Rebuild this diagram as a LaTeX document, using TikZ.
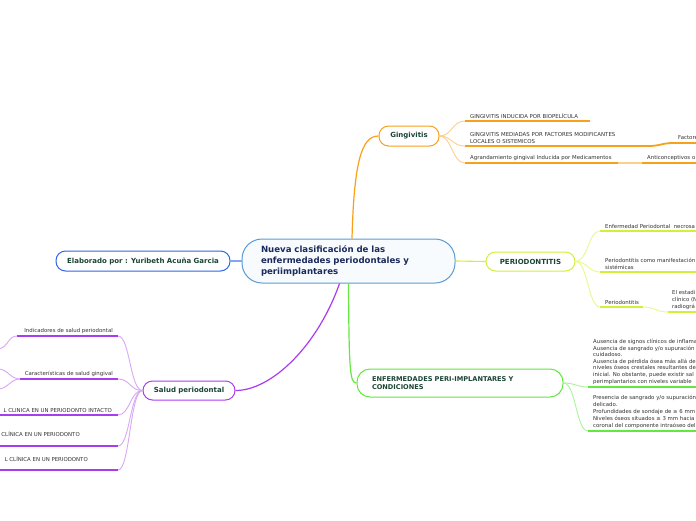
\documentclass[tikz,border=0pt]{standalone}
\usepackage{fontspec}
\setmainfont{DejaVu Sans}
\definecolor{cblue}{HTML}{5A9BD5}
\definecolor{cfill}{HTML}{F8FBFD}
\definecolor{orng}{HTML}{F7A11A}
\definecolor{orngl}{HTML}{FCD08C}
\definecolor{ylw}{HTML}{D2F03A}
\definecolor{ylwl}{HTML}{E8F98E}
\definecolor{grn}{HTML}{62E840}
\definecolor{grnl}{HTML}{ABF39C}
\definecolor{prp}{HTML}{A93CF0}
\definecolor{prpl}{HTML}{DAA8F6}
\definecolor{blu}{HTML}{2F66E8}
\definecolor{blul}{HTML}{86A6F0}
\definecolor{ntext}{HTML}{1A4533}
\definecolor{ctext}{HTML}{1B2A5C}
\definecolor{stext}{HTML}{333333}
\tikzset{
  topic/.style={draw, line width=1pt, rounded corners=9.5pt, fill=white, text=ntext,
    font=\bfseries\fontsize{7}{8.5}\selectfont, minimum height=20pt, inner sep=0pt},
  sub/.style={font=\fontsize{5.4}{6.9}\selectfont, text=stext, align=left, inner sep=0pt},
  uline/.style={line width=1.8pt},
  conn/.style={line width=0.9pt},
}
\begin{document}
\begin{tikzpicture}[x=1pt,y=-1pt]
\useasboundingbox[fill=white] (0,0) rectangle (696,520);

% ---------- central ----------
\node[draw=cblue, line width=1pt, fill=cfill, rounded corners=20pt, minimum width=213pt,
  minimum height=44pt, text width=175pt, inner xsep=19pt, inner ysep=0pt, align=left,
  text=ctext, font=\bfseries\fontsize{8.6}{11}\selectfont] (c) at (348.5,261)
  {Nueva clasificación de las\\enfermedades periodontales y\\periimplantares};

% ---------- Gingivitis ----------
\node[topic, draw=orng, minimum width=60pt] (ging) at (409,136) {Gingivitis};
\draw[orng, line width=1.2pt] ([xshift=3.5pt]c.north) .. controls (354,160) and (362,136) .. (ging.west);

\coordinate (g1a) at (465,121); \coordinate (g1b) at (590,121);
\coordinate (g2a) at (465,146); \coordinate (g2b) at (648,146);
\coordinate (g2c) at (674,143); \coordinate (g2d) at (697,143);
\coordinate (g3a) at (465,163); \coordinate (g3b) at (618,163);
\coordinate (g3c) at (642,163); \coordinate (g3d) at (697,163);
\foreach \t in {g1a,g2a,g3a}
  \draw[conn, orngl] (ging.east) .. controls (452,136) and (452,136|-\t) .. (\t);
\draw[uline, orng] (g1a) -- (g1b);
\draw[uline, orng] (g2a) -- (g2b) .. controls (661,146) and (661,143) .. (g2c) -- (g2d);
\draw[uline, orng] (g3a) -- (g3b);
\draw[uline, orngl] (g3b) -- (g3c);
\draw[uline, orng] (g3c) -- (g3d);
\node[sub, anchor=south west] (g1t) at (470,118.5) {GINGIVITIS INDUCIDA POR BIOPELÍCULA};
\node[sub, anchor=south west] (g2t) at (470,143.5) {GINGIVITIS MEDIADAS POR FACTORES MODIFICANTES\\LOCALES O SISTEMICOS};
\node[sub, anchor=south west] (g2u) at (678,140) {Factore};
\node[sub, anchor=south west] (g3t) at (470,160.5) {Agrandamiento gingival Inducida por Medicamentos};
\node[sub, anchor=south west] (g3u) at (647,160.5) {Anticonceptivos o};

% ---------- Periodontitis ----------
\node[topic, draw=ylw, minimum width=89pt, minimum height=19pt] (perio) at (530.5,261.5) {PERIODONTITIS};
\draw[ylw, line width=1.1pt] (c.east) -- (perio.west);
\coordinate (p1a) at (600,231); \coordinate (p1b) at (697,231);
\coordinate (p2a) at (600,272); \coordinate (p2b) at (697,272);
\coordinate (p3a) at (600,307); \coordinate (p3b) at (643,307);
\coordinate (p3c) at (668,312); \coordinate (p3d) at (697,312);
\foreach \t in {p1a,p2a,p3a}
  \draw[conn, ylwl] (perio.east) .. controls (588,261.5) and (588,261.5|-\t) .. (\t);
\draw[uline, ylw] (p1a) -- (p1b);
\draw[uline, ylw] (p2a) -- (p2b);
\draw[uline, ylw] (p3a) -- (p3b);
\draw[conn, ylwl] (p3b) .. controls (655,307) and (656,312) .. (p3c);
\draw[uline, ylw] (p3c) -- (p3d);
\node[sub, anchor=south west] (p1t) at (605,228.5) {Enfermedad Periodontal~ necrosa};
\node[sub, anchor=south west] (p2t) at (605,269.5) {Periodontitis como manifestación\\sistémicas};
\node[sub, anchor=south west] (p3t) at (605,304.5) {Periodontitis};
\node[sub, anchor=south west] (p3u) at (672,309.5) {El estadi\\clínico (N\\radiográ};

% ---------- Peri-implant ----------
\node[topic, draw=grn, rounded corners=13pt, minimum width=206pt, minimum height=28pt,
  text width=176pt, inner xsep=15pt, align=left, font=\bfseries\fontsize{6.6}{8}\selectfont]
  (peri) at (460,383) {ENFERMEDADES PERI-IMPLANTARES Y\\CONDICIONES};
\draw[grn, line width=1.2pt] (c.south) .. controls (349,372) and (350,383) .. (peri.west);
\coordinate (e1a) at (588,387); \coordinate (e1b) at (697,387);
\coordinate (e2a) at (588,431); \coordinate (e2b) at (697,431);
\foreach \t in {e1a,e2a}
  \draw[conn, grnl] (peri.east) .. controls (576,383) and (576,383|-\t) .. (\t);
\draw[uline, grn] (e1a) -- (e1b);
\draw[uline, grn] (e2a) -- (e2b);
\node[sub, anchor=south west, font=\fontsize{5.4}{6.6}\selectfont] (e1t) at (593,384.5) {Ausencia de signos clínicos de inflama\\Ausencia de sangrado y/o supuración\\cuidadoso.\\Ausencia de pérdida ósea más allá de\\niveles óseos crestales resultantes de\\inicial. No obstante, puede existir sal\\perimplantarios con niveles variable};
\node[sub, anchor=south west] (e2t) at (593,428.5) {Presencia de sangrado y/o supuración\\delicado.\\Profundidades de sondaje de ≥ 6 mm\\Niveles óseos situados ≥ 3 mm hacia\\coronal del componente intraóseo del};

% ---------- Elaborado ----------
\node[topic, draw=blu, minimum width=174pt] (elab) at (143,261) {Elaborado por : Yuribeth Acuña Garcia};
\draw[blul, line width=1.3pt] (elab.east) -- (c.west);

% ---------- Salud periodontal ----------
\node[topic, draw=prp, minimum width=92pt, minimum height=19pt] (salud) at (189,390.5) {Salud periodontal};
\draw[prp, line width=1.2pt] ([xshift=-9pt]c.south) .. controls (318,345) and (272,390.5) .. (salud.east);
\coordinate (s1a) at (17,336);  \coordinate (s1b) at (118,336);
\coordinate (s2a) at (20,379);  \coordinate (s2b) at (118,379);
\coordinate (s3a) at (-2,415);  \coordinate (s3b) at (118,415);
\coordinate (s4a) at (-2,446);  \coordinate (s4b) at (118,446);
\coordinate (s5a) at (-2,470);  \coordinate (s5b) at (118,470);
\coordinate (x1) at (-2,349); \coordinate (x2) at (-2,369); \coordinate (x3) at (-2,389);
\foreach \t in {s1b,s2b,s3b,s4b,s5b}
  \draw[conn, prpl] (salud.west) .. controls (130,390.5) and (130,390.5|-\t) .. (\t);
\foreach \t in {s1a,s2a,s3a,s4a,s5a}
  \draw[uline, prp] (\t) -- (\t-|s1b);
\draw[conn, prpl] (s1a) .. controls (8,336) and (8,348) .. (x1);
\draw[conn, prpl] (s2a) .. controls (10,379) and (8,369) .. (x2);
\draw[conn, prpl] (s2a) .. controls (10,379) and (8,389) .. (x3);
\node[sub, anchor=south east] (s1t) at (113,333.5) {Indicadores de salud periodontal};
\node[sub, anchor=south east] (s2t) at (113,376.5) {Características de salud gingival};
\node[sub, anchor=south east] (s3t) at (112,412.5) {L CLINICA EN UN PERIODONTO INTACTO};
\node[sub, anchor=south east] (s4t) at (80,437) {CLÍNICA EN UN PERIODONTO};
\node[sub, anchor=south east] (s5t) at (88,461.5) {L CLÍNICA EN UN PERIODONTO};
\end{tikzpicture}
\end{document}
